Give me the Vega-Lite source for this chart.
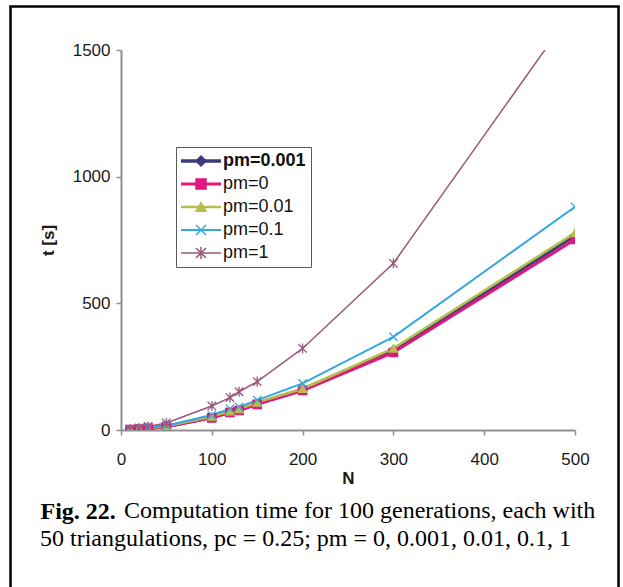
{
  "$schema": "https://vega.github.io/schema/vega-lite/v6.json",
  "width": 454,
  "height": 380,
  "autosize": {"type": "none"},
  "padding": {"left": 121, "top": 50, "right": 48, "bottom": 157},
  "background": "white",
  "config": {"view": {"stroke": null}, "font": "Liberation Sans"},
  "title": {
    "text": ["\u200b\u00a0\u00a0\u00a0\u00a0\u00a0\u00a0\u00a0\u00a0\u00a0\u00a0\u00a0\u00a0\u00a0\u00a0Computation time for 100 generations, each with", "50 triangulations, pc = 0.25; pm = 0, 0.001, 0.01, 0.1, 1"],
    "orient": "bottom",
    "anchor": "start",
    "frame": "group",
    "font": "Liberation Serif",
    "fontSize": 24,
    "fontWeight": "normal",
    "color": "black",
    "lineHeight": 28,
    "offset": -108,
    "dx": -81
  },
  "data": {"values": [
    {"N": 10, "t": 2, "series": "pm=0.001"},
    {"N": 20, "t": 4, "series": "pm=0.001"},
    {"N": 30, "t": 7, "series": "pm=0.001"},
    {"N": 50, "t": 14, "series": "pm=0.001"},
    {"N": 100, "t": 50, "series": "pm=0.001"},
    {"N": 120, "t": 71, "series": "pm=0.001"},
    {"N": 130, "t": 80, "series": "pm=0.001"},
    {"N": 150, "t": 105, "series": "pm=0.001"},
    {"N": 200, "t": 160, "series": "pm=0.001"},
    {"N": 300, "t": 316, "series": "pm=0.001"},
    {"N": 500, "t": 767, "series": "pm=0.001"},
    {"N": 10, "t": 2, "series": "pm=0"},
    {"N": 20, "t": 4, "series": "pm=0"},
    {"N": 30, "t": 7, "series": "pm=0"},
    {"N": 50, "t": 13, "series": "pm=0"},
    {"N": 100, "t": 48, "series": "pm=0"},
    {"N": 120, "t": 69, "series": "pm=0"},
    {"N": 130, "t": 77, "series": "pm=0"},
    {"N": 150, "t": 101, "series": "pm=0"},
    {"N": 200, "t": 156, "series": "pm=0"},
    {"N": 300, "t": 306, "series": "pm=0"},
    {"N": 500, "t": 752, "series": "pm=0"},
    {"N": 10, "t": 2, "series": "pm=0.01"},
    {"N": 20, "t": 5, "series": "pm=0.01"},
    {"N": 30, "t": 8, "series": "pm=0.01"},
    {"N": 50, "t": 15, "series": "pm=0.01"},
    {"N": 100, "t": 53, "series": "pm=0.01"},
    {"N": 120, "t": 74, "series": "pm=0.01"},
    {"N": 130, "t": 83, "series": "pm=0.01"},
    {"N": 150, "t": 109, "series": "pm=0.01"},
    {"N": 200, "t": 163, "series": "pm=0.01"},
    {"N": 300, "t": 322, "series": "pm=0.01"},
    {"N": 500, "t": 778, "series": "pm=0.01"},
    {"N": 10, "t": 2, "series": "pm=0.1"},
    {"N": 20, "t": 5, "series": "pm=0.1"},
    {"N": 30, "t": 9, "series": "pm=0.1"},
    {"N": 50, "t": 17, "series": "pm=0.1"},
    {"N": 100, "t": 59, "series": "pm=0.1"},
    {"N": 120, "t": 83, "series": "pm=0.1"},
    {"N": 130, "t": 91, "series": "pm=0.1"},
    {"N": 150, "t": 118, "series": "pm=0.1"},
    {"N": 200, "t": 184, "series": "pm=0.1"},
    {"N": 300, "t": 368, "series": "pm=0.1"},
    {"N": 500, "t": 881, "series": "pm=0.1"},
    {"N": 10, "t": 3, "series": "pm=1"},
    {"N": 20, "t": 8, "series": "pm=1"},
    {"N": 30, "t": 14, "series": "pm=1"},
    {"N": 50, "t": 28, "series": "pm=1"},
    {"N": 100, "t": 95, "series": "pm=1"},
    {"N": 120, "t": 128, "series": "pm=1"},
    {"N": 130, "t": 151, "series": "pm=1"},
    {"N": 150, "t": 191, "series": "pm=1"},
    {"N": 200, "t": 322, "series": "pm=1"},
    {"N": 300, "t": 658, "series": "pm=1"},
    {"N": 500, "t": 1668, "series": "pm=1"}
  ]},
  "layer": [
    {
      "layer": [
        {
          "mark": {"type": "line", "clip": true},
          "encoding": {
            "x": {
              "field": "N", "type": "quantitative",
              "scale": {"domain": [0, 500], "nice": false, "zero": false},
              "axis": {
                "values": [0, 100, 200, 300, 400, 500], "format": "d",
                "domainColor": "#909090", "domainWidth": 2,
                "tickColor": "#909090", "tickWidth": 1.5, "tickSize": 5,
                "labelFont": "Liberation Sans", "labelFontSize": 17, "labelColor": "#1a1a1a",
                "labelPadding": 16, "labelFlush": false, "grid": false,
                "title": "N", "titleFont": "Liberation Sans", "titleFontSize": 17,
                "titleFontWeight": "bold", "titleColor": "#1a1a1a", "titlePadding": 3
              }
            },
            "y": {
              "field": "t", "type": "quantitative",
              "scale": {"domain": [0, 1500], "nice": false},
              "axis": {
                "values": [0, 500, 1000, 1500], "format": "d",
                "domainColor": "#909090", "domainWidth": 2,
                "tickColor": "#909090", "tickWidth": 1.5, "tickSize": 5,
                "labelFont": "Liberation Sans", "labelFontSize": 17, "labelColor": "#1a1a1a",
                "labelPadding": 6, "grid": false,
                "title": "t [s]", "titleFont": "Liberation Sans", "titleFontSize": 17,
                "titleFontWeight": "bold", "titleColor": "#1a1a1a", "titlePadding": 15
              }
            },
            "color": {
              "field": "series", "type": "nominal",
              "scale": {
                "domain": ["pm=0.001", "pm=0", "pm=0.01", "pm=0.1", "pm=1"],
                "range": ["#3d3b7d", "#e0177f", "#b5bf4a", "#35a7dc", "#98587a"]
              }
            },
            "strokeWidth": {
              "field": "series", "type": "nominal",
              "scale": {
                "domain": ["pm=0.001", "pm=0", "pm=0.01", "pm=0.1", "pm=1"],
                "range": [3.5, 1.5, 1.5, 1.5, 1.5]
              },
              "legend": null
            }
          }
        },
        {
          "mark": {"type": "point", "filled": true, "opacity": 1, "size": 70, "strokeWidth": 1.3, "clip": true},
          "encoding": {
            "x": {"field": "N", "type": "quantitative"},
            "y": {"field": "t", "type": "quantitative"},
            "color": {
              "field": "series", "type": "nominal",
              "legend": {
                "title": null, "orient": "none", "legendX": 55, "legendY": 97,
                "strokeColor": "#5a5a5a", "fillColor": "white", "padding": 5,
                "labelFont": "Liberation Sans", "labelFontSize": 18, "labelColor": "#111111",
                "symbolSize": 100, "symbolOffset": 11, "labelOffset": 13, "rowPadding": 5,
                "symbolOpacity": 1,
                "encode": {"labels": {"update": {"fontWeight": {"signal": "datum.value === 'pm=0.001' ? 'bold' : 'normal'"}}}}
              }
            },
            "stroke": {
              "field": "series", "type": "nominal",
              "scale": {
                "domain": ["pm=0.001", "pm=0", "pm=0.01", "pm=0.1", "pm=1"],
                "range": ["#3d3b7d", "#e0177f", "#b5bf4a", "#35a7dc", "#98587a"]
              },
              "legend": null
            },
            "shape": {
              "field": "series", "type": "nominal",
              "scale": {
                "domain": ["pm=0.001", "pm=0", "pm=0.01", "pm=0.1", "pm=1"],
                "range": ["diamond", "square", "triangle-up", "M-1,-1L1,1M-1,1L1,-1", "M-1,-1L1,1M-1,1L1,-1M0,-1.2L0,1.2"]
              }
            }
          }
        },
        {
          "mark": {"type": "line", "opacity": 0, "clip": true},
          "encoding": {
            "x": {"field": "N", "type": "quantitative"},
            "y": {"field": "t", "type": "quantitative"},
            "stroke": {
              "field": "series", "type": "nominal", "sort": null,
              "scale": {"range": ["#3d3b7d", "#e0177f", "#b5bf4a", "#35a7dc", "#98587a"]},
              "legend": {
                "title": null, "orient": "none", "legendX": 55, "legendY": 97,
                "strokeColor": null, "fillColor": null, "padding": 5,
                "labelFont": "Liberation Sans", "labelFontSize": 18, "labelOpacity": 0,
                "symbolType": "M-4,0L4,0", "symbolSize": 100, "symbolOffset": 11, "labelOffset": 13, "rowPadding": 5,
                "symbolOpacity": 1
              }
            },
            "strokeWidth": {
              "field": "series", "type": "nominal", "sort": null,
              "scale": {"range": [3.5, 1.5, 1.5, 1.5, 1.5]},
              "legend": {
                "title": null, "orient": "none", "legendX": 55, "legendY": 97,
                "strokeColor": null, "fillColor": null, "padding": 5,
                "labelFont": "Liberation Sans", "labelFontSize": 18, "labelOpacity": 0,
                "symbolType": "M-4,0L4,0", "symbolSize": 100, "symbolOffset": 11, "labelOffset": 13, "rowPadding": 5,
                "symbolOpacity": 1
              }
            }
          }
        }
      ],
      "resolve": {"scale": {"stroke": "independent", "strokeWidth": "independent"}}
    },
    {
      "mark": {"type": "point", "opacity": 0, "clip": true},
      "encoding": {
        "x": {
          "field": "N", "type": "quantitative",
          "scale": {"domain": [0, 1], "range": [-111, 497], "nice": false, "zero": false},
          "axis": {
            "orient": "bottom", "offset": -424, "values": [0, 1],
            "domainColor": "black", "domainWidth": 2.5, "domainCap": "square",
            "tickColor": "black", "tickWidth": 2.5, "tickSize": 600,
            "labels": false, "grid": false,
            "title": "Fig. 22.", "titleX": -81, "titleY": 512,
            "titleAlign": "left", "titleBaseline": "alphabetic", "titleAngle": 0,
            "titleFont": "Liberation Serif", "titleFontSize": 24, "titleFontWeight": "bold",
            "titleColor": "black"
          }
        },
        "y": {"field": "t", "type": "quantitative"}
      }
    }
  ],
  "resolve": {"scale": {"x": "independent"}, "axis": {"x": "independent"}}
}
